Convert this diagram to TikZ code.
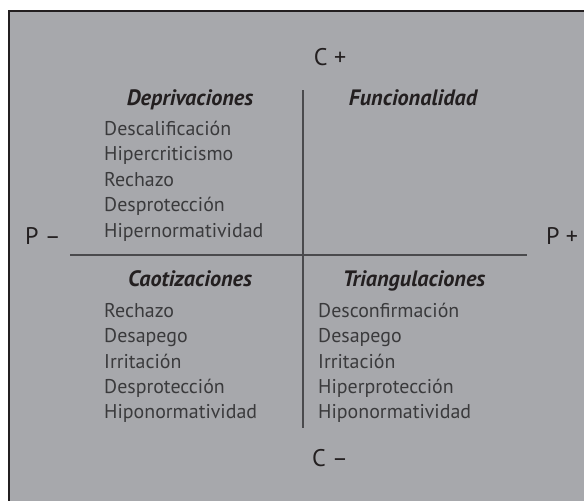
\documentclass[tikz,border=0pt]{standalone}
\usepackage{fontspec}
\setmainfont{PT Sans}
\usepackage{tikz}
\definecolor{panel}{HTML}{A7A8AC}
\definecolor{ink}{HTML}{3A3A3C}
\definecolor{head}{HTML}{231F20}
\definecolor{rule}{HTML}{4A4A4D}
\tikzset{
  item/.style={text=ink, font=\fontsize{17}{20}\selectfont, anchor=base west, inner sep=0pt},
  title/.style={text=head, font=\fontsize{19}{22}\selectfont\bfseries\itshape, anchor=base, inner sep=0pt},
  pole/.style={text=head, font=\fontsize{20.5}{24}\selectfont, inner sep=0pt},
  axis/.style={draw=rule, line width=1.2pt},
  frame/.style={fill=panel, draw=head, line width=1.3pt}
}
\begin{document}
\begin{tikzpicture}[x=0.03cm, y=-0.03cm]
\useasboundingbox (0,0) rectangle (584,500);
\clip (0,0) rectangle (584,500);
\draw[frame] (9,11) rectangle (600,520);

% ejes
\coordinate (top) at (303,90);
\coordinate (bot) at (303,428);
\coordinate (left) at (70,255);
\coordinate (right) at (527,255);
\draw[axis] (top) -- (bot);
\draw[axis] (left) -- (right);

\node[pole] (cplus) at (330,57) {C +};
\node[pole] (cminus) at (330,458) {C –};
\node[pole] (pminus) at (43,236) {P –};
\node[pole] (pplus) at (562,236) {P +};

% cuadrante superior
\node[title] (depriv) at (190,105) {Deprivaciones};
\node[title] (funcion) at (413,105) {Funcionalidad};
\node[item] (d1) at (104,135) {Descalificación};
\node[item] (d2) at (104,160.5) {Hipercriticismo};
\node[item] (d3) at (104,186) {Rechazo};
\node[item] (d4) at (104,211.5) {Desprotección};
\node[item] (d5) at (104,237) {Hipernormatividad};

% cuadrante inferior
\node[title] (caot) at (190,286) {Caotizaciones};
\node[title] (triang) at (414,286) {Triangulaciones};
\node[item] (c1) at (104,317) {Rechazo};
\node[item] (c2) at (104,342.5) {Desapego};
\node[item] (c3) at (104,368) {Irritación};
\node[item] (c4) at (104,393) {Desprotección};
\node[item] (c5) at (104,418) {Hiponormatividad};
\node[item] (t1) at (318,317) {Desconfirmación};
\node[item] (t2) at (318,342.5) {Desapego};
\node[item] (t3) at (318,368) {Irritación};
\node[item] (t4) at (318,393) {Hiperprotección};
\node[item] (t5) at (318,418) {Hiponormatividad};
\end{tikzpicture}
\end{document}
